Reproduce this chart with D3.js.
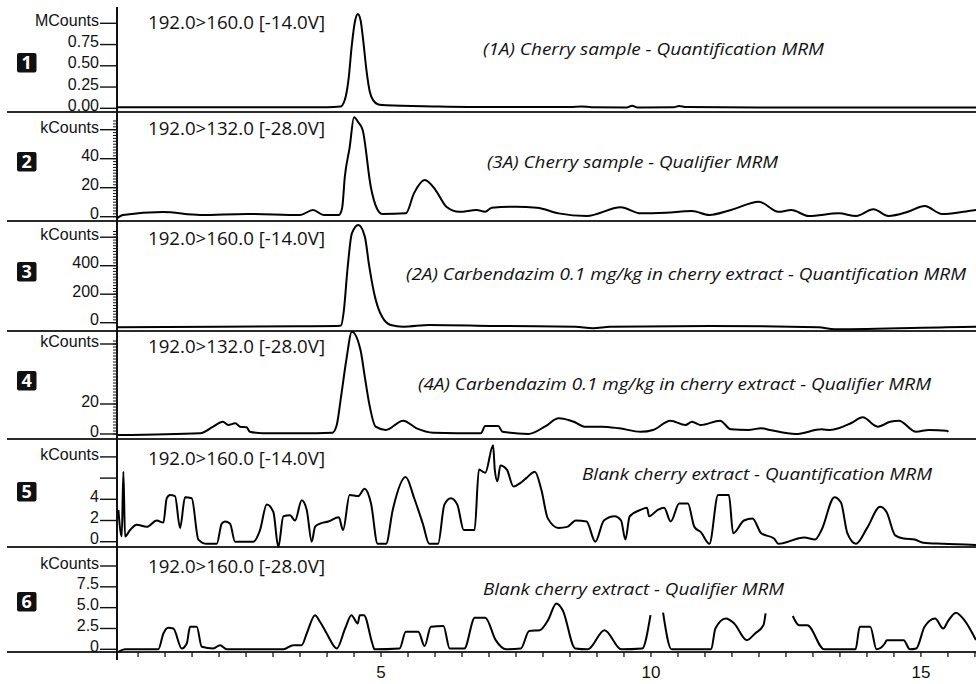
<!DOCTYPE html>
<html>
<head>
<meta charset="utf-8">
<script src="https://cdn.jsdelivr.net/npm/d3@7"></script>
<style>
  body { margin: 0; background: #fff; }
  text { font-family: "Open Sans", "Noto Sans", sans-serif; fill: #111; }
  text.axis { font-family: "Liberation Sans", Arial, sans-serif; }
</style>
</head>
<body>
<svg id="chart" width="976" height="684"></svg>
<script>
// retention time (min), signal (in the panel's unit)
const trace1 = [[0.11,0.012],[2,0.012],[4.0,0.012],[4.25,0.02],[4.33,0.1],[4.40,0.35],[4.46,0.75],[4.52,1.03],[4.57,1.11],[4.62,1.04],[4.67,0.8],[4.73,0.45],[4.79,0.2],[4.86,0.09],[4.95,0.045],[5.1,0.035],[6.0,0.022],[7.0,0.014],[8.5,0.014],[8.72,0.022],[8.9,0.012],[9.55,0.01],[9.65,0.03],[9.75,0.01],[10.42,0.012],[10.52,0.028],[10.65,0.014],[12,0.01],[16.02,0.008]];

const trace2 = [[0.11,-1.1],[0.22,1.2],[0.96,3.2],[1.65,1.2],[2.52,1.9],[3.5,1.2],[3.74,4.6],[3.94,1.2],[4.22,1.2],[4.28,6],[4.33,27.6],[4.42,48],[4.5,68.6],[4.58,65],[4.66,59.8],[4.81,20.7],[4.92,6],[5.02,1.9],[5.46,2.3],[5.61,16.1],[5.81,25.3],[6.01,18.4],[6.21,6.9],[6.45,3.4],[6.77,4.6],[6.93,3.4],[7.05,6.2],[7.49,6.9],[7.89,6.2],[8.29,2.3],[8.81,0.5],[9.44,6.5],[9.81,2.3],[10.28,2.8],[10.76,3.9],[11.08,1.2],[11.48,4.6],[12.0,10.3],[12.36,3.4],[12.6,4.6],[12.92,0.5],[13.48,2.3],[13.8,0.5],[14.12,5.1],[14.4,0.5],[14.76,3.4],[15.07,7.4],[15.39,1.9],[15.79,3.4],[16.02,4.6]];

const trace3 = [[0.11,-32],[2.0,-28],[3.5,-25],[4.2,-23],[4.26,-20],[4.31,80],[4.38,380],[4.46,627],[4.58,686],[4.70,604],[4.78,400],[4.86,229],[4.95,100],[5.02,42],[5.18,-16],[5.41,-28],[5.9,-16],[7.1,-23],[8.6,-28],[8.93,-39],[9.24,-28],[11.08,-23],[13.1,-32],[13.4,-46],[15.47,-32],[16.02,-28]];

const trace4 = [[0.13,-0.7],[1.65,0.5],[1.89,4.9],[2.07,8.2],[2.17,6],[2.30,7.1],[2.39,4.9],[2.51,4.5],[2.57,1.5],[2.81,0.5],[3.5,0.5],[4.10,0.9],[4.18,6],[4.26,24.9],[4.36,50],[4.46,68.2],[4.62,56],[4.70,38],[4.78,20.5],[4.90,4.9],[5.09,2.7],[5.41,8.9],[5.66,3.8],[5.97,0.9],[6.85,0.5],[6.93,5.3],[7.17,5.3],[7.25,1.5],[7.73,0],[8.05,5.3],[8.29,10.5],[8.57,8.2],[8.77,4.9],[9.09,4.9],[9.41,3.8],[9.81,1.5],[10.04,2.7],[10.36,8.9],[10.64,6],[10.76,8.2],[10.92,6],[11.28,8.9],[11.48,3.1],[11.80,2.7],[12.04,3.8],[12.20,2.7],[12.68,0],[13.16,3.1],[13.32,2.7],[13.72,7.5],[13.92,11.1],[14.20,4.9],[14.43,8.2],[14.59,8.9],[14.91,1.5],[15.15,2.7],[15.47,2.2],[15.51,1.5]];

const trace5 = [[0.135,3.0],[0.198,0.5],[0.228,6.6],[0.259,0.5],[0.352,1.1],[0.476,1.6],[0.661,1.4],[0.846,2.0],[0.969,1.8],[1.031,4.1],[1.093,4.4],[1.185,4.3],[1.278,1.3],[1.370,4.2],[1.494,4.1],[1.617,0.2],[1.772,-0.2],[1.957,-0.2],[2.050,1.7],[2.111,1.9],[2.204,1.7],[2.296,0.0],[2.635,0.0],[2.759,1.1],[2.883,3.5],[3.006,2.8],[3.098,-0.5],[3.191,2.4],[3.315,2.5],[3.407,2.0],[3.531,3.9],[3.624,3.0],[3.717,0.0],[3.778,1.4],[3.870,1.7],[4.024,1.9],[4.219,2.3],[4.296,1.1],[4.419,4.4],[4.574,4.3],[4.698,5.0],[4.815,3.6],[4.937,-0.2],[5.093,-0.2],[5.217,3.0],[5.456,6.1],[5.615,4.1],[5.774,1.7],[5.894,-0.2],[6.056,-0.2],[6.174,3.5],[6.294,4.1],[6.413,3.5],[6.533,1.1],[6.733,1.1],[6.813,6.8],[6.931,6.5],[7.076,9.1],[7.107,6.8],[7.156,5.7],[7.211,7.2],[7.331,6.8],[7.452,5.2],[7.570,5.5],[7.691,6.0],[7.850,6.6],[7.970,4.9],[8.089,2.2],[8.289,1.3],[8.448,1.4],[8.609,2.0],[8.807,1.9],[8.969,0.0],[9.128,2.0],[9.328,2.4],[9.446,2.0],[9.526,0.2],[9.606,2.4],[9.806,3.0],[9.926,3.2],[9.965,2.4],[10.126,3.0],[10.244,3.2],[10.365,1.9],[10.524,3.6],[10.683,3.6],[10.804,1.4],[10.924,0.9],[11.083,-0.2],[11.243,4.4],[11.443,4.4],[11.522,0.8],[11.722,2.0],[11.881,2.2],[12.041,0.8],[12.280,0.3],[12.359,-0.2],[12.839,0.4],[13.039,0.2],[13.159,1.1],[13.398,4.2],[13.519,3.7],[13.637,0.8],[13.796,-0.2],[14.004,1.3],[14.244,3.3],[14.363,2.8],[14.524,0.6],[14.683,0.3],[14.883,0.2],[15.043,-0.1],[15.402,-0.2],[16.019,-0.3]];

// null = gap in the recorded trace
const trace6 = [[0.135,-0.3],[0.259,0.0],[0.876,0.0],[0.969,1.9],[1.061,2.6],[1.154,2.5],[1.309,0.1],[1.402,0.7],[1.463,2.7],[1.587,2.7],[1.680,0.3],[1.894,0.1],[2.019,0.5],[2.143,0.0],[3.191,0.0],[3.376,0.5],[3.531,0.5],[3.624,1.9],[3.778,4.1],[3.870,3.3],[3.994,1.9],[4.180,0.1],[4.335,2.5],[4.452,4.1],[4.569,3.1],[4.606,4.1],[4.683,4.1],[4.839,0.7],[4.878,0.0],[5.343,0.1],[5.459,2.1],[5.691,2.1],[5.807,0.4],[5.924,2.7],[6.156,2.8],[6.272,0.1],[6.543,0.1],[6.737,3.8],[6.931,3.8],[7.124,1.1],[7.319,0.0],[7.589,0.1],[7.744,2.2],[7.939,2.3],[8.093,3.5],[8.248,5.5],[8.365,4.7],[8.596,0.1],[8.830,0.0],[9.139,2.3],[9.450,0.0],[9.837,0.1],[9.991,4.1],[10.1,null],[10.224,4.4],[10.380,0.0],[11.115,0.0],[11.193,2.5],[11.387,3.7],[11.541,3.1],[11.774,1.1],[11.928,1.9],[12.083,2.9],[12.122,4.3],[12.4,null],[12.626,4.0],[12.743,2.9],[12.896,2.9],[13.207,0.0],[13.789,0.0],[13.867,2.7],[14.061,2.7],[14.178,0.0],[14.331,0.7],[14.370,1.1],[14.680,1.1],[14.796,0.0],[14.913,0.1],[15.067,2.7],[15.261,3.7],[15.413,2.5],[15.494,3.3],[15.648,4.4],[15.804,3.5],[16.019,1.1]];

const traces = [trace1, trace2, trace3, trace4, trace5, trace6];
const panelNumbers = ["1", "2", "3", "4", "5", "6"];
const transitions = ["192.0>160.0 [-14.0V]", "192.0>132.0 [-28.0V]", "192.0>160.0 [-14.0V]",
  "192.0>132.0 [-28.0V]", "192.0>160.0 [-14.0V]", "192.0>160.0 [-28.0V]"];
const titles = ["(1A) Cherry sample - Quantification MRM",
  "(3A) Cherry sample - Qualifier MRM",
  "(2A) Carbendazim 0.1 mg/kg in cherry extract - Quantification MRM",
  "(4A) Carbendazim 0.1 mg/kg in cherry extract - Qualifier MRM",
  "Blank cherry extract - Quantification MRM",
  "Blank cherry extract - Qualifier MRM"];
const unitNames = ["MCounts", "kCounts", "kCounts", "kCounts", "kCounts", "kCounts"];
const unitValues = [1, 60, 600, 60, 8, 10];
const yTicks = [[0, 0.25, 0.5, 0.75], [0, 20, 40], [0, 200, 400], [0, 20], [0, 2, 4, 6], [0, 2.5, 5, 7.5]];
const yTickLabels = [["0.00", "0.25", "0.50", "0.75"], ["0", "20", "40"], ["0", "200", "400"],
  ["0", "20"], ["0", "2", "4", ""], ["0", "2.5", "5.0", "7.5"]];
const minorStep = [0, 2, 20, 2, 0, 0];
const minorTop = [0, 66, 640, 62, 0, 0];
const xTickLabels = [5, 10, 15];

// layout (pixels)
const axisX = 117, rightX = 976, leftX = 7;
const zeroY = [108.3, 216.7, 322.7, 434, 541.7, 649.3];
const unitY = [23.3, 129.7, 237.2, 344, 456.9, 566];
const borderY = [112, 221, 331, 439, 547];
const bottomY = 652;
const boxY = [53, 152, 262, 371, 482, 592];
const transY = [29, 135, 245, 353, 465, 573];
const titleBox = [[483, 55, 341], [487, 168, 291], [406, 280, 560], [418, 390, 513], [582, 480, 350], [483, 595, 301]];

const svg = d3.select("#chart");

const x = d3.scaleLinear().domain([0.11, 16.02]).range([axisX, rightX]);

// panel separators
svg.append("g")
  .selectAll("line")
  .data(borderY.concat([bottomY]))
  .enter()
  .append("line")
  .attr("x1", leftX).attr("x2", rightX)
  .attr("y1", d => d).attr("y2", d => d)
  .attr("stroke", "#2a2a2a")
  .attr("stroke-width", 2);

// bottom time axis
const xAxis = svg.append("g").attr("transform", "translate(0," + bottomY + ")");
xAxis.selectAll("line")
  .data(d3.range(0.5, 16.01, 0.5))
  .enter()
  .append("line")
  .attr("x1", d => x(d)).attr("x2", d => x(d))
  .attr("y1", 0).attr("y2", 5)
  .attr("stroke", "#111").attr("stroke-width", 1.3);
xAxis.selectAll("text")
  .data(xTickLabels)
  .enter()
  .append("text")
  .attr("class", "axis")
  .attr("x", d => x(d))
  .attr("y", 26)
  .attr("text-anchor", "middle")
  .style("font-size", "17px")
  .text(d => d);

// vertical axis
svg.append("line")
  .attr("x1", axisX).attr("x2", axisX)
  .attr("y1", 7).attr("y2", 660)
  .attr("stroke", "#111").attr("stroke-width", 2);

const line = d3.line()
  .defined(d => d[1] != null)
  .curve(d3.curveMonotoneX);

traces.forEach((data, i) => {
  const y = d3.scaleLinear().domain([0, unitValues[i]]).range([zeroY[i], unitY[i]]);
  const g = svg.append("g");

  // minor ticks
  if (minorStep[i]) {
    g.selectAll(".minor")
      .data(d3.range(0, minorTop[i] + 0.001, minorStep[i]))
      .enter()
      .append("line")
      .attr("x1", axisX - 4).attr("x2", axisX)
      .attr("y1", d => y(d)).attr("y2", d => y(d))
      .attr("stroke", "#111").attr("stroke-width", 1);
  }

  // major ticks + labels
  const ticks = yTicks[i].concat([unitValues[i]]);
  const labels = yTickLabels[i].concat([unitNames[i]]);
  g.selectAll(".major")
    .data(ticks)
    .enter()
    .append("line")
    .attr("x1", axisX - 17).attr("x2", axisX)
    .attr("y1", d => y(d)).attr("y2", d => y(d))
    .attr("stroke", "#111").attr("stroke-width", 1.4);
  g.selectAll(".lab")
    .data(ticks)
    .enter()
    .append("text")
    .attr("class", "axis")
    .attr("x", axisX - 18)
    .attr("y", (d, k) => y(d) + (k === ticks.length - 1 ? 3 : 2.5))
    .attr("text-anchor", "end")
    .style("font-size", "16px")
    .text((d, k) => labels[k]);

  // numbered black box
  g.append("rect")
    .attr("x", 17).attr("y", boxY[i])
    .attr("width", 19.5).attr("height", 19.5)
    .attr("rx", 2)
    .attr("fill", "#111");
  g.append("text")
    .attr("x", 26.75).attr("y", boxY[i] + 16)
    .attr("text-anchor", "middle")
    .style("font-size", "18px")
    .style("font-weight", "bold")
    .style("fill", "#fff")
    .text(panelNumbers[i]);

  // transition label
  g.append("text")
    .attr("x", 148).attr("y", transY[i])
    .attr("textLength", 177)
    .attr("lengthAdjust", "spacingAndGlyphs")
    .style("font-size", "17.5px")
    .text(transitions[i]);

  // italic title
  g.append("text")
    .attr("x", titleBox[i][0]).attr("y", titleBox[i][1])
    .attr("textLength", titleBox[i][2])
    .attr("lengthAdjust", "spacingAndGlyphs")
    .style("font-size", "17px")
    .style("font-style", "italic")
    .text(titles[i]);

  // chromatogram
  line.x(d => x(d[0])).y(d => y(d[1]));
  g.append("path")
    .datum(data)
    .attr("d", line)
    .attr("fill", "none")
    .attr("stroke", "#000")
    .attr("stroke-width", 2)
    .attr("stroke-linejoin", "round");
});
</script>
</body>
</html>
